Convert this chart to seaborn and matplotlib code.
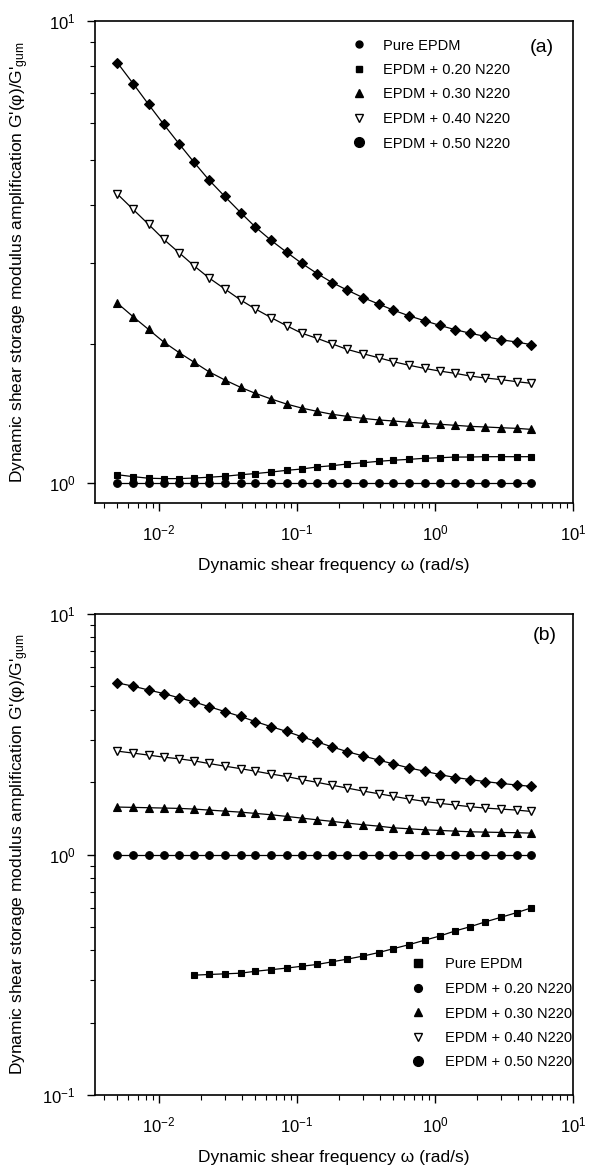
import numpy as np
import matplotlib
matplotlib.use("Agg")
import matplotlib.pyplot as plt
from matplotlib.lines import Line2D
from matplotlib.ticker import NullFormatter
import seaborn as sns

# ---------------- data ----------------
freq = [0.005, 0.0065, 0.0084, 0.0108, 0.014, 0.018, 0.023, 0.030, 0.039, 0.050,
        0.065, 0.084, 0.108, 0.14, 0.18, 0.23, 0.30, 0.39, 0.50, 0.65,
        0.84, 1.08, 1.4, 1.8, 2.3, 3.0, 3.9, 5.0]

# panel (a)
a_pure = [1.0] * 28
a_020 = [1.042, 1.032, 1.024, 1.022, 1.022, 1.025, 1.029, 1.034, 1.042, 1.048,
         1.056, 1.065, 1.072, 1.083, 1.090, 1.099, 1.106, 1.114, 1.120, 1.125,
         1.131, 1.134, 1.138, 1.138, 1.140, 1.140, 1.140, 1.140]
a_030 = [2.45, 2.29, 2.15, 2.02, 1.915, 1.825, 1.741, 1.671, 1.611, 1.563,
         1.52, 1.482, 1.453, 1.429, 1.408, 1.394, 1.38, 1.369, 1.362, 1.353,
         1.346, 1.34, 1.333, 1.326, 1.322, 1.317, 1.313, 1.306]
a_040 = [4.22, 3.91, 3.63, 3.37, 3.15, 2.95, 2.78, 2.63, 2.49, 2.38,
         2.28, 2.19, 2.11, 2.056, 2.0, 1.947, 1.905, 1.867, 1.83, 1.798,
         1.77, 1.747, 1.727, 1.704, 1.688, 1.674, 1.657, 1.643]
a_050 = [8.12, 7.32, 6.60, 5.98, 5.42, 4.94, 4.53, 4.17, 3.85, 3.58,
         3.35, 3.16, 2.99, 2.84, 2.715, 2.617, 2.52, 2.44, 2.366, 2.30,
         2.245, 2.194, 2.147, 2.109, 2.077, 2.042, 2.019, 1.992]

# panel (b)
b_circ = [1.0] * 28
b_sq_freq = freq[5:]
b_sq = [0.315, 0.317, 0.319, 0.321, 0.327, 0.332, 0.337, 0.343, 0.349, 0.358,
        0.367, 0.378, 0.391, 0.406, 0.422, 0.44, 0.458, 0.481, 0.501, 0.524,
        0.548, 0.573, 0.60]
b_030 = [1.575, 1.57, 1.565, 1.56, 1.555, 1.545, 1.53, 1.515, 1.50, 1.482,
         1.463, 1.44, 1.417, 1.394, 1.373, 1.351, 1.33, 1.312, 1.291, 1.279,
         1.267, 1.259, 1.251, 1.243, 1.239, 1.235, 1.232, 1.227]
b_040 = [2.69, 2.64, 2.59, 2.54, 2.50, 2.45, 2.39, 2.33, 2.275, 2.22,
         2.16, 2.11, 2.05, 1.995, 1.94, 1.89, 1.836, 1.79, 1.745, 1.70,
         1.663, 1.632, 1.606, 1.58, 1.56, 1.545, 1.53, 1.51]
b_050 = [5.17, 5.01, 4.83, 4.67, 4.48, 4.31, 4.12, 3.93, 3.75, 3.57,
         3.40, 3.25, 3.09, 2.94, 2.80, 2.68, 2.57, 2.47, 2.38, 2.29,
         2.22, 2.15, 2.09, 2.05, 2.01, 1.976, 1.945, 1.92]

legend_labels = ["Pure EPDM", "EPDM + 0.20 N220", "EPDM + 0.30 N220",
                 "EPDM + 0.40 N220", "EPDM + 0.50 N220"]
xticks_lbl = ["10$^{-2}$", "10$^{-1}$", "10$^{0}$", "10$^{1}$"]

# ---------------- style ----------------
sns.set_style("ticks")
plt.rcParams["font.family"] = ["Liberation Sans", "DejaVu Sans"]
plt.rcParams["mathtext.fontset"] = "custom"
plt.rcParams["mathtext.rm"] = "Liberation Sans"
plt.rcParams["mathtext.it"] = "Liberation Sans:italic"
plt.rcParams["mathtext.bf"] = "Liberation Sans:bold"
plt.rcParams["axes.linewidth"] = 1.2
plt.rcParams["text.color"] = "black"
plt.rcParams["axes.labelcolor"] = "black"
plt.rcParams["xtick.color"] = "black"
plt.rcParams["ytick.color"] = "black"
plt.rcParams["axes.edgecolor"] = "black"

fig = plt.figure(figsize=(5.9, 11.72), dpi=100)
W, H = 590.0, 1172.0
axL, axR = 95, 573
ax_a = fig.add_axes([axL / W, 1 - 503 / H, (axR - axL) / W, (503 - 21) / H])
ax_b = fig.add_axes([axL / W, 1 - 1095 / H, (axR - axL) / W, (1095 - 614) / H])

ylab = "Dynamic shear storage modulus amplification G'(φ)/G'$_{\\mathrm{gum}}$"
xlab = "Dynamic shear frequency ω (rad/s)"


def series(ax, x, y, marker, ms, mfc="k", mew=0.8):
    sns.lineplot(x=x, y=y, ax=ax, color="k", marker=marker, markersize=ms,
                 markerfacecolor=mfc, markeredgecolor="k", markeredgewidth=mew,
                 linewidth=0.9, sort=False, estimator=None, legend=False)


for ax in (ax_a, ax_b):
    ax.set_xscale("log")
    ax.set_yscale("log")

series(ax_a, freq, a_pure, "o", 5.5)
series(ax_a, freq, a_020, "s", 5.0)
series(ax_a, freq, a_030, "^", 6.0)
series(ax_a, freq, a_040, "v", 6.0, mfc="white", mew=1.0)
series(ax_a, freq, a_050, "D", 5.6)

series(ax_b, freq, b_circ, "o", 5.5)
series(ax_b, b_sq_freq, b_sq, "s", 5.0)
series(ax_b, freq, b_030, "^", 6.0)
series(ax_b, freq, b_040, "v", 6.0, mfc="white", mew=1.0)
series(ax_b, freq, b_050, "D", 5.6)

ax_a.set_ylim(0.905, 10)
ax_b.set_ylim(0.1, 10)

for ax in (ax_a, ax_b):
    ax.set_xlim(0.00344, 10)
    ax.set_xticks([0.01, 0.1, 1, 10])
    ax.set_xticklabels(xticks_lbl)
    ax.xaxis.set_minor_formatter(NullFormatter())
    ax.yaxis.set_minor_formatter(NullFormatter())
    ax.tick_params(which="major", direction="out", length=6, width=1.0,
                   labelsize=12, color="k", labelcolor="k")
    ax.tick_params(which="minor", direction="out", length=3.5, width=0.8, color="k")
    ax.tick_params(axis="x", which="major", pad=9)
    ax.tick_params(axis="y", which="major", pad=8)
    for s in ax.spines.values():
        s.set_visible(True)
        s.set_color("k")
    ax.set_xlabel(xlab, fontsize=12.5, labelpad=10, color="k")
    ax.set_ylabel(ylab, fontsize=12.5, color="k")
    ax.yaxis.set_label_coords(-(axL - 31) / (axR - axL), 0.5)

ax_a.set_yticks([1, 10])
ax_a.set_yticklabels(["10$^{0}$", "10$^{1}$"])
ax_b.set_yticks([0.1, 1, 10])
ax_b.set_yticklabels(["10$^{-1}$", "10$^{0}$", "10$^{1}$"])

fs_leg = 10.5


def mk(marker, ms, mfc="k"):
    return Line2D([], [], ls="none", marker=marker, markersize=ms,
                  markerfacecolor=mfc, markeredgecolor="k", markeredgewidth=1.0)


handles_a = [mk("o", 5.0), mk("s", 4.6), mk("^", 5.2), mk("v", 5.2, "white"), mk("o", 7.0)]
handles_b = [mk("s", 5.2), mk("o", 5.6), mk("^", 5.2), mk("v", 5.2, "white"), mk("o", 7.0)]

leg_a = ax_a.legend(handles_a, legend_labels, loc="upper left",
                    bbox_to_anchor=((351.7 - axL) / (axR - axL), (503 - 38.5) / 482),
                    frameon=False, fontsize=fs_leg, handlelength=1.0,
                    handletextpad=1.14, labelspacing=0.72, borderpad=0, borderaxespad=0,
                    labelcolor="k")
leg_b = ax_b.legend(handles_b, legend_labels, loc="upper left",
                    bbox_to_anchor=((410.7 - axL) / (axR - axL), (1095 - 957.5) / 481),
                    frameon=False, fontsize=fs_leg, handlelength=1.0,
                    handletextpad=1.35, labelspacing=0.72, borderpad=0, borderaxespad=0,
                    labelcolor="k")

ax_a.text((542 - axL) / (axR - axL), (503 - 47) / 482, "(a)", transform=ax_a.transAxes,
          ha="center", va="center", fontsize=14, color="k")
ax_b.text((545 - axL) / (axR - axL), (1095 - 636) / 481, "(b)", transform=ax_b.transAxes,
          ha="center", va="center", fontsize=14, color="k")

fig.savefig("out.png", dpi=100, facecolor="white")
